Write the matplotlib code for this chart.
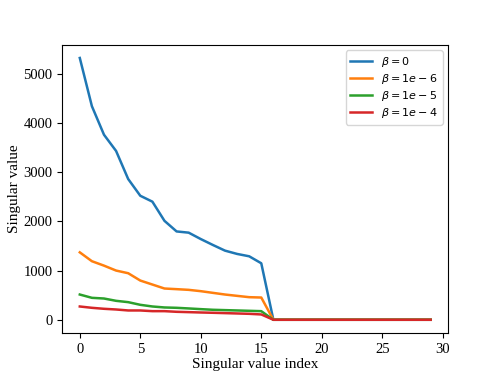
import numpy as np
import matplotlib
matplotlib.use("Agg")
import matplotlib.pyplot as plt

plt.rcParams["font.family"] = ["Liberation Serif", "DejaVu Serif"]
plt.rcParams["mathtext.fontset"] = "dejavusans"

# singular value index (0..29)
index = np.arange(30)
beta_labels = [r"$\beta = 0$", r"$\beta = 1e-6$", r"$\beta = 1e-5$", r"$\beta = 1e-4$"]

sv_beta0 = [5320, 4340, 3760, 3430, 2860, 2520, 2400, 2010, 1795, 1770,
            1640, 1520, 1405, 1338, 1290, 1148] + [0] * 14
sv_beta1e6 = [1370, 1190, 1100, 1000, 946, 797, 716, 635, 622, 608,
              581, 547, 513, 486, 459, 452] + [0] * 14
sv_beta1e5 = [513, 446, 432, 385, 358, 304, 270, 250, 243, 230,
              216, 203, 196, 189, 182, 175] + [0] * 14
sv_beta1e4 = [270, 243, 223, 209, 189, 189, 175, 175, 162, 155,
              148, 142, 135, 128, 121, 108] + [0] * 14

fig, ax = plt.subplots(figsize=(4.98, 3.74), dpi=100)
fig.subplots_adjust(left=0.125, right=0.9, bottom=0.11, top=0.88)

for vals, lab in zip([sv_beta0, sv_beta1e6, sv_beta1e5, sv_beta1e4], beta_labels):
    ax.plot(index, vals, linewidth=1.8, label=lab)

ax.set_xlabel("Singular value index", fontsize=11, labelpad=2)
ax.set_ylabel("Singular value", fontsize=11, labelpad=2)
ax.tick_params(labelsize=10.5)
ax.legend(fontsize=8, loc="upper right", labelspacing=0.28)

fig.savefig("out.png", dpi=100)
